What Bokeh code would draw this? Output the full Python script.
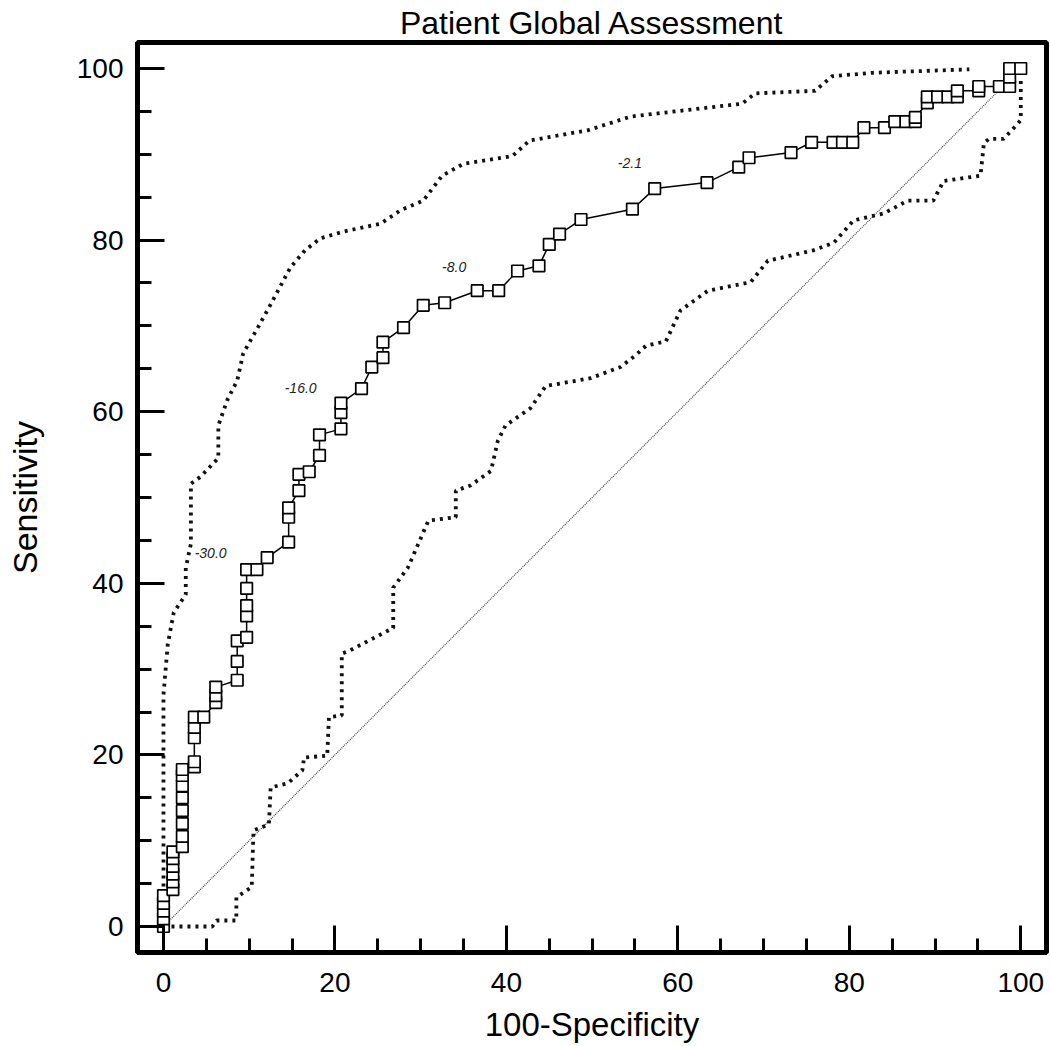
from bokeh.plotting import figure
from bokeh.models import Range1d, SingleIntervalTicker
from bokeh.core.properties import value
from bokeh.embed import file_html
from bokeh.resources import INLINE

# ROC curve (100-Specificity, Sensitivity)
roc_x = [0, 0, 0, 0, 0,
         1.1, 1.1, 1.1, 1.1, 1.1, 1.1,
         2.2, 2.2, 2.2, 2.2, 2.2, 2.2, 2.2, 2.2,
         3.6, 3.6, 3.6, 3.6, 3.6, 4.7,
         6.1, 6.1, 6.1,
         8.6, 8.6, 8.6, 9.7, 9.7, 9.7, 9.7, 9.7, 10.9,
         12.1, 14.6, 14.6, 14.6, 15.8, 15.8, 17.0, 18.2, 18.2,
         20.7, 20.7, 20.7, 23.1, 24.3, 25.6, 25.6, 28.0, 30.3, 32.8, 36.6, 39.1,
         41.3, 43.8, 45.0, 46.2, 48.7, 54.7, 57.3, 63.4, 67.1, 68.3, 73.2, 75.6,
         78.1, 79.2, 80.4, 81.7, 84.1, 85.3, 86.6, 87.7, 87.7, 89.1, 89.1, 90.3,
         91.5, 92.6, 92.6, 95.1, 95.1, 97.5, 98.7, 98.7, 98.7, 100]
roc_y = [0, 0.9, 1.8, 2.7, 3.6,
         4.3, 5.2, 6.1, 7.0, 7.9, 8.7,
         9.3, 10.5, 12.0, 13.5, 15.0, 16.4, 17.6, 18.3,
         18.6, 19.2, 22.0, 23.2, 24.4, 24.4,
         26.1, 26.9, 27.9,
         28.7, 30.9, 33.3, 33.7, 36.2, 37.4, 39.4, 41.6, 41.6,
         43.0, 44.8, 47.7, 48.8, 50.8, 52.7, 53.0, 54.9, 57.3,
         58.0, 59.9, 61.0, 62.7, 65.2, 66.3, 68.1, 69.8, 72.4, 72.7, 74.1, 74.1,
         76.4, 77.0, 79.5, 80.7, 82.4, 83.6, 86.0, 86.7, 88.5, 89.6, 90.2, 91.4,
         91.4, 91.4, 91.4, 93.1, 93.1, 93.8, 93.8, 93.8, 94.3, 96.0, 96.7, 96.7,
         96.7, 96.7, 97.4, 97.4, 97.9, 97.9, 97.9, 99.0, 100, 100]

# Upper confidence bound
upper_x = [0, 0, 0.5, 1.2, 2.6, 2.6, 3.2, 3.2, 4.3, 6.4, 6.4, 7.5, 8.6, 9.3,
           11.0, 12.5, 14.8, 16.5, 18.3, 21.0, 25.3, 27.7, 30.3, 32.5, 35.0,
           40.7, 42.7, 49.5, 54.5, 67.5, 69.0, 76.0, 78.0, 82.7, 94.0]
upper_y = [0, 27.0, 32.9, 36.6, 38.7, 41.8, 44.6, 51.6, 52.4, 54.6, 58.4, 61.5,
           63.6, 66.8, 69.8, 72.5, 76.8, 78.8, 80.2, 81.0, 81.9, 83.5, 84.6,
           87.5, 88.9, 89.8, 91.6, 92.8, 94.4, 95.9, 97.1, 97.4, 99.1, 99.5, 99.9]

# Lower confidence bound
lower_x = [0, 5.7, 6.2, 8.5, 8.5, 10.3, 10.5, 12.3, 12.5, 14.5, 16.2, 16.4,
           19.1, 19.3, 20.8, 20.8, 21.8, 26.8, 26.8, 28.5, 30.9, 34.1, 34.1,
           35.8, 38.2, 39.0, 39.9, 42.8, 44.6, 49.8, 53.3, 55.1, 56.3, 58.6,
           60.3, 63.5, 68.5, 70.5, 75.8, 78.2, 80.5, 84.0, 86.8, 89.8, 91.0,
           95.3, 95.7, 96.3, 98.0, 99.5, 100, 100]
lower_y = [0, 0, 0.7, 0.7, 3.4, 4.6, 11.2, 11.9, 16.2, 16.7, 18.2, 19.7,
           19.9, 24.4, 24.6, 31.8, 32.2, 34.8, 39.5, 41.8, 47.3, 47.7, 50.8,
           51.4, 53.1, 56.6, 58.4, 60.4, 63.0, 63.9, 65.2, 66.6, 67.7, 68.2,
           71.8, 74.1, 75.1, 77.6, 78.8, 79.7, 82.3, 83.1, 84.6, 84.6, 86.9,
           87.5, 91.3, 91.8, 91.8, 93.4, 94.0, 98.8]

# Reference diagonal
diag_x = [0, 100]
diag_y = [0, 100]

# Criterion labels
crit_text = ["-30.0", "-16.0", "-8.0", "-2.1"]
crit_x = [5.5, 16.0, 33.9, 54.4]
crit_y = [43.5, 62.8, 76.9, 89.0]

FONT = "Liberation Sans"

p = figure(width=1050, height=1046,
           x_range=Range1d(-3.03, 103.0), y_range=Range1d(-3.03, 103.03),
           output_backend="svg", toolbar_location=None,
           min_border_left=137, min_border_right=4,
           min_border_top=42, min_border_bottom=94,
           title="Patient Global Assessment")

p.title.text_font = FONT
p.title.text_font_size = "32px"
p.title.text_font_style = "normal"
p.title.text_color = "black"
p.title.align = "center"
p.title.standoff = 4

p.outline_line_color = "black"
p.outline_line_width = 5
p.outline_line_alpha = 1.0
p.xgrid.visible = False
p.ygrid.visible = False
p.background_fill_color = "white"
p.border_fill_color = "white"

for ax in (p.xaxis[0], p.yaxis[0]):
    ax.ticker = SingleIntervalTicker(interval=20, num_minor_ticks=4)
    ax.axis_line_width = 5
    ax.axis_line_color = "black"
    ax.major_tick_in = 27
    ax.major_tick_out = 0
    ax.minor_tick_in = 14
    ax.minor_tick_out = 0
    ax.major_tick_line_width = 3
    ax.minor_tick_line_width = 3
    ax.major_tick_line_color = "black"
    ax.minor_tick_line_color = "black"
    ax.major_label_text_font = FONT
    ax.major_label_text_font_size = "28px"
    ax.major_label_text_color = "black"
    ax.axis_label_text_font = FONT
    ax.axis_label_text_font_style = "normal"
    ax.axis_label_text_color = "black"

p.xaxis.axis_label = "100-Specificity"
p.yaxis.axis_label = "Sensitivity"
p.xaxis.axis_label_text_font_size = "33px"
p.yaxis.axis_label_text_font_size = "34px"
p.xaxis.major_label_standoff = 20
p.xaxis.axis_label_standoff = 11
p.yaxis.major_label_standoff = 14
p.yaxis.axis_label_standoff = 30

# diagonal
p.line(diag_x, diag_y, line_color="#444444", line_width=1.2, line_dash="1 1")

# confidence bounds
p.line(upper_x, upper_y, line_color="#111111", line_width=3.8, line_dash="3 5")
p.line(lower_x, lower_y, line_color="#111111", line_width=3.8, line_dash="3 5")

# ROC curve
p.line(roc_x, roc_y, line_color="black", line_width=1.5)
p.scatter(roc_x, roc_y, marker="square", size=11.5, fill_color="white",
          line_color="black", line_width=1.7)

p.text(crit_x, crit_y, text=crit_text, text_font=value(FONT),
       text_font_size="14px", text_font_style="italic", text_color="#222222",
       text_align="center", text_baseline="middle")

open("out.html", "w").write(file_html(p, INLINE))
